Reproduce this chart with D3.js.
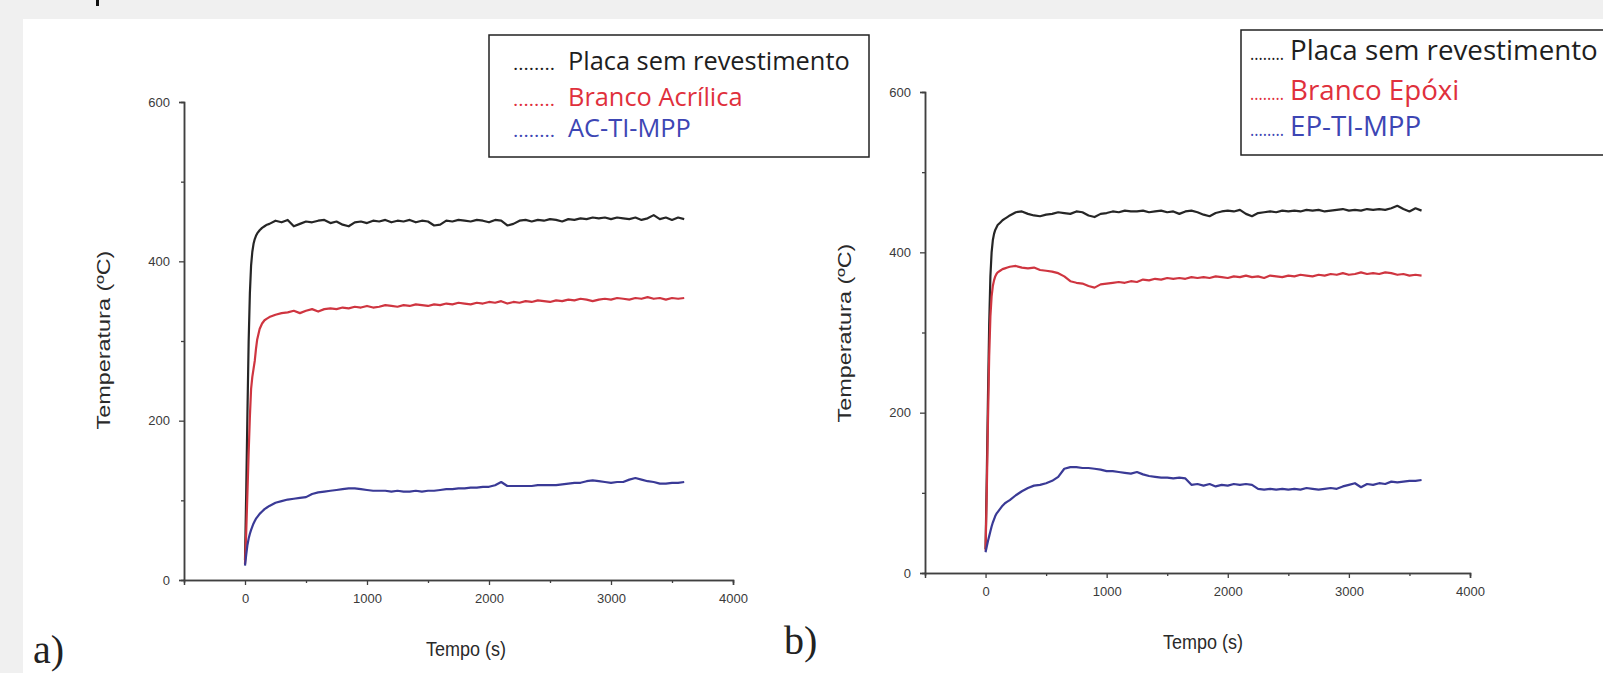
<!DOCTYPE html>
<html><head><meta charset="utf-8">
<script src="https://cdn.jsdelivr.net/npm/d3@7"></script>
<style>html,body{margin:0;padding:0;background:#f0f0f0;overflow:hidden}</style>
</head><body>
<svg id="c" width="1603" height="673"></svg>
<script>
// ---- data ----
const time = [0,10,20,30,40,50,60,70,80,90,100,120,140,160,180,200,250,
300,350,400,450,500,550,600,650,700,
750,800,850,900,950,1000,1050,1100,1150,1200,
1250,1300,1350,1400,1450,1500,1550,1600,1650,1700,
1750,1800,1850,1900,1950,2000,2050,2100,2150,2200,
2250,2300,2350,2400,2450,2500,2550,2600,2650,2700,
2750,2800,2850,2900,2950,3000,3050,3100,3150,3200,
3250,3300,3350,3400,3450,3500,3550,3600];

const blackA = [25,110,210,300,360,395,412,422,428,432,435,439,442,444,446,447,451,
449,452,444,447,450,449,451,452,448,
450,446,444,449,450,448,451,450,452,449,
451,450,452,449,451,450,445,446,451,450,
452,451,450,452,451,449,452,451,445,447,
451,452,450,452,451,453,452,450,453,452,
454,453,455,454,455,453,455,454,453,455,
452,454,458,453,455,452,455,453];

const redA = [20,60,110,160,205,240,255,265,275,290,302,315,322,326,328,330,333,
335,336,338,335,338,340,337,340,341,
340,342,341,343,342,344,342,343,345,344,
343,345,344,346,345,344,346,345,347,346,
348,347,346,348,347,349,348,350,347,349,
348,350,349,351,350,349,351,350,352,351,
353,352,350,352,353,352,354,353,352,354,
353,355,353,354,352,354,353,354];

const blueA = [18,32,44,52,58,63,67,71,74,77,79,83,86,89,91,93,97,
99,101,102,103,104,108,110,111,112,
113,114,115,115,114,113,112,112,112,111,
112,111,111,112,111,112,112,113,114,114,
115,115,116,116,117,117,119,123,118,118,
118,118,118,119,119,119,119,120,121,122,
122,124,125,124,123,122,123,123,126,128,
126,124,123,121,121,122,122,123];

const blackB = [30,120,220,310,370,400,415,423,428,431,434,437,440,442,444,446,450,
451,448,446,445,447,448,450,449,448,
451,450,446,444,448,449,451,450,452,451,
451,452,450,451,452,450,451,448,451,452,
450,447,445,449,451,452,451,453,448,445,
449,450,451,450,452,451,452,451,453,452,
453,451,452,453,454,452,453,452,454,453,
454,453,455,458,454,451,455,452];

const redB = [28,100,190,270,320,345,358,365,370,373,375,377,379,380,381,382,383,
381,380,381,378,377,376,374,370,364,
362,361,358,356,360,361,362,363,362,364,
363,366,365,367,366,368,367,368,367,369,
368,369,368,370,369,368,370,369,371,369,
370,368,371,370,369,371,370,372,371,370,
372,371,373,372,374,372,373,375,373,374,
373,375,374,372,373,371,372,371];

const blueB = [26,33,40,46,52,58,63,67,71,74,76,80,84,87,89,91,97,
102,106,109,110,112,115,120,130,132,
132,131,131,130,129,127,127,126,125,124,
126,123,121,120,119,119,118,119,118,110,
111,109,111,108,110,109,111,110,111,110,
105,104,105,104,105,104,105,104,106,105,
104,105,106,105,108,110,112,107,111,110,
112,111,114,113,114,115,115,116];

const xTicks = [0,1000,2000,3000,4000];
const xMinor = [500,1500,2500,3500];
const yTicks = [0,200,400,600];
const yMinor = [100,300,500];
const legendA = ["Placa sem revestimento","Branco Acrílica","AC-TI-MPP"];
const legendB = ["Placa sem revestimento","Branco Epóxi","EP-TI-MPP"];
const lineColors = ["#262626","#cf3540","#3a3a96"];
const textColors = ["#1e1e1e","#e0303c","#3d46b4"];

// ---- drawing ----
const W=1603,H=673;
const svg=d3.select("#c");
svg.append("rect").attr("width",W).attr("height",H).attr("fill","#f0f0f0");
svg.append("rect").attr("x",23).attr("y",19).attr("width",W-23).attr("height",H-19).attr("fill","#fff");
svg.append("rect").attr("x",96).attr("y",0).attr("width",3).attr("height",6).attr("fill","#111");

const panels=[
 {series:[blackA,redA,blueA], legend:legendA, xr:[184,733], yr:[580,102], label:"a)", lab:[33,663],
  ytitle:[105,340], xtitle:[466,651], box:[489,35,380,122], dotsX:513, dotsW:42, textX:568, rows:[70,106,137], textW:282},
 {series:[blackB,redB,blueB], legend:legendB, xr:[925,1470], yr:[573,92], label:"b)", lab:[784,654],
  ytitle:[846,333], xtitle:[1203,644], box:[1241,30,420,125], dotsX:1250, dotsW:34, textX:1290, rows:[60,100,136], textW:308}
];

const sans="'Liberation Sans',Arial,sans-serif";
panels.forEach(p=>{
  const x=d3.scaleLinear().domain([-500,4000]).range(p.xr);
  const y=d3.scaleLinear().domain([0,600]).range(p.yr);
  const g=svg.append("g");
  const styleAxis=a=>{
    a.select(".domain").attr("stroke","#404040").attr("stroke-width",1.5);
    a.selectAll(".tick line").attr("stroke","#404040").attr("stroke-width",1.3);
    a.selectAll("text").attr("fill","#3a3a3a").style("font-family",sans).style("font-size","13px");
  };
  g.append("g").attr("transform",`translate(0,${p.yr[0]})`)
    .call(d3.axisBottom(x).tickValues(xMinor).tickSize(3).tickFormat("")).call(styleAxis);
  g.append("g").attr("transform",`translate(0,${p.yr[0]})`)
    .call(d3.axisBottom(x).tickValues(xTicks).tickSize(5).tickPadding(9).tickFormat(d3.format("d"))).call(styleAxis);
  g.append("g").attr("transform",`translate(${p.xr[0]},0)`)
    .call(d3.axisLeft(y).tickValues(yMinor).tickSize(3).tickFormat("")).call(styleAxis);
  g.append("g").attr("transform",`translate(${p.xr[0]},0)`)
    .call(d3.axisLeft(y).tickValues(yTicks).tickSize(5).tickPadding(9).tickFormat(d3.format("d"))).call(styleAxis);

  const line=d3.line().x((d,i)=>x(time[i])).y(d=>y(d));
  p.series.forEach((s,k)=>{
    g.append("path").datum(s).attr("d",line).attr("fill","none")
     .attr("stroke",lineColors[k]).attr("stroke-width",2.2).attr("stroke-linejoin","round");
  });

  g.append("text").attr("transform",`translate(${p.ytitle[0]},${p.ytitle[1]}) rotate(-90) scale(1.3,1)`)
    .attr("text-anchor","middle").attr("dominant-baseline","middle")
    .style("font-family",sans).style("font-size","18px").attr("fill","#2a2a2a")
    .text("Temperatura (ºC)");
  g.append("text").attr("transform",`translate(${p.xtitle[0]},${p.xtitle[1]}) scale(1,1.15)`)
    .attr("text-anchor","middle").attr("dominant-baseline","middle")
    .style("font-family",sans).style("font-size","18px").attr("fill","#2a2a2a")
    .text("Tempo (s)");
  g.append("text").attr("x",p.lab[0]).attr("y",p.lab[1])
    .style("font-family","'Liberation Serif','Times New Roman',serif").style("font-size","40px").attr("fill","#222")
    .text(p.label);

  // legend
  const b=p.box;
  g.append("rect").attr("x",b[0]).attr("y",b[1]).attr("width",b[2]).attr("height",b[3])
    .attr("fill","#fff").attr("stroke","#222").attr("stroke-width",1.5);
  const texts=p.legend.map((t,k)=>{
    g.append("text").attr("x",p.dotsX).attr("y",p.rows[k]).attr("fill",textColors[k])
      .attr("textLength",p.dotsW).attr("lengthAdjust","spacingAndGlyphs")
      .style("font-family","'Open Sans',sans-serif").style("font-size","18px").text("........");
    return g.append("text").attr("x",p.textX).attr("y",p.rows[k]).attr("fill",textColors[k])
      .style("font-family","'Open Sans',sans-serif").style("font-size","24px").text(t);
  });
  const w0=texts[0].node().getComputedTextLength();
  const fs=24*p.textW/w0;
  texts.forEach(t=>t.style("font-size",fs+"px"));
});
</script>
</body></html>
